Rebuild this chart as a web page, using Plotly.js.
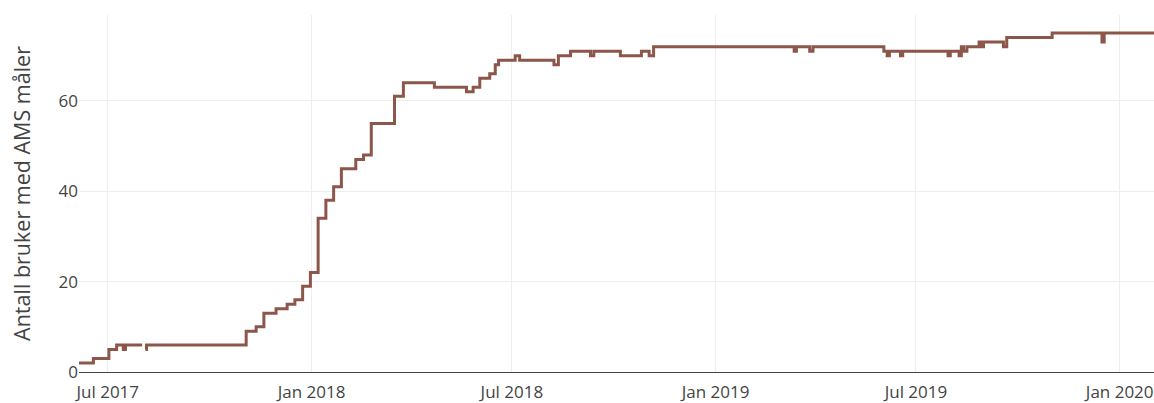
<!DOCTYPE html>
<html>
<head>
<meta charset="utf-8">
<script src="https://cdn.plot.ly/plotly-3.0.1.min.js"></script>
<style>
  html, body { margin: 0; padding: 0; background: #fff; }
  #chart { width: 1154px; height: 403px; }
</style>
</head>
<body>
<div id="chart"></div>
<script>
// Change points of the step series (date when the count changes, new count)
const dates = [
  "2017-06-05", "2017-06-18", "2017-07-02", "2017-07-09", "2017-07-15", "2017-07-17",
  "2017-08-01", "2017-08-02", "2017-08-04", "2017-08-05",
  "2017-11-03", "2017-11-12", "2017-11-19", "2017-11-30", "2017-12-10", "2017-12-17",
  "2017-12-24", "2017-12-31", "2018-01-07", "2018-01-14", "2018-01-21", "2018-01-28",
  "2018-02-10", "2018-02-17", "2018-02-24", "2018-03-17", "2018-03-25", "2018-04-22",
  "2018-05-21", "2018-05-27", "2018-06-02", "2018-06-11", "2018-06-16", "2018-06-19",
  "2018-07-04", "2018-07-08", "2018-08-08", "2018-08-12", "2018-08-23", "2018-09-10",
  "2018-09-13", "2018-10-07", "2018-10-26", "2018-11-02", "2018-11-06",
  "2019-03-13", "2019-03-15", "2019-03-27", "2019-03-30",
  "2019-06-02", "2019-06-05", "2019-06-07", "2019-06-17", "2019-06-19",
  "2019-07-30", "2019-08-01", "2019-08-09", "2019-08-11", "2019-08-13", "2019-08-16",
  "2019-08-27", "2019-08-29", "2019-08-31", "2019-09-18", "2019-09-21",
  "2019-11-01", "2019-12-16", "2019-12-18", "2020-02-01"
];
const users = [
  2, 3, 5, 6, 5, 6,
  6, null, 5, 6,
  9, 10, 13, 14, 15, 16,
  19, 22, 34, 38, 41, 45,
  47, 48, 55, 61, 64, 63,
  62, 63, 65, 66, 68, 69,
  70, 69, 68, 70, 71, 70,
  71, 70, 71, 70, 72,
  71, 72, 71, 72,
  71, 70, 71, 70, 71,
  70, 71, 70, 72, 71, 72,
  73, 72, 73, 72, 74,
  75, 73, 75, 75
];
const yTickVals = [0, 20, 40, 60];
const xRange = ["2017-06-05", "2020-02-01"];
const yTitle = "Antall bruker med AMS måler";

const trace = {
  x: dates,
  y: users,
  type: "scatter",
  mode: "lines",
  line: { shape: "hv", color: "#8c564b", width: 3 },
  connectgaps: false,
  hoverinfo: "x+y"
};

const layout = {
  width: 1154,
  height: 403,
  margin: { l: 79, r: 0, t: 15, b: 31, pad: 0 },
  paper_bgcolor: "#fff",
  plot_bgcolor: "#fff",
  font: { family: "Open Sans, sans-serif", color: "#444", size: 17 },
  showlegend: false,
  xaxis: {
    type: "date",
    range: xRange,
    tick0: "2017-07-01",
    dtick: "M6",
    tickformat: "%b %Y",
    showgrid: true,
    gridcolor: "#eee",
    zeroline: false,
    showline: false,
    ticks: "",
    ticklabelstandoff: 8,
    tickfont: { size: 17, color: "#444" }
  },
  yaxis: {
    range: [0, 79],
    tickvals: yTickVals,
    showgrid: true,
    gridcolor: "#eee",
    zeroline: true,
    zerolinecolor: "#444",
    zerolinewidth: 1,
    ticks: "",
    tickfont: { size: 17, color: "#444" },
    title: { text: yTitle, font: { size: 21.5, color: "#444" }, standoff: 22 }
  }
};

Plotly.newPlot("chart", [trace], layout, { displayModeBar: false, staticPlot: true });
</script>
</body>
</html>
